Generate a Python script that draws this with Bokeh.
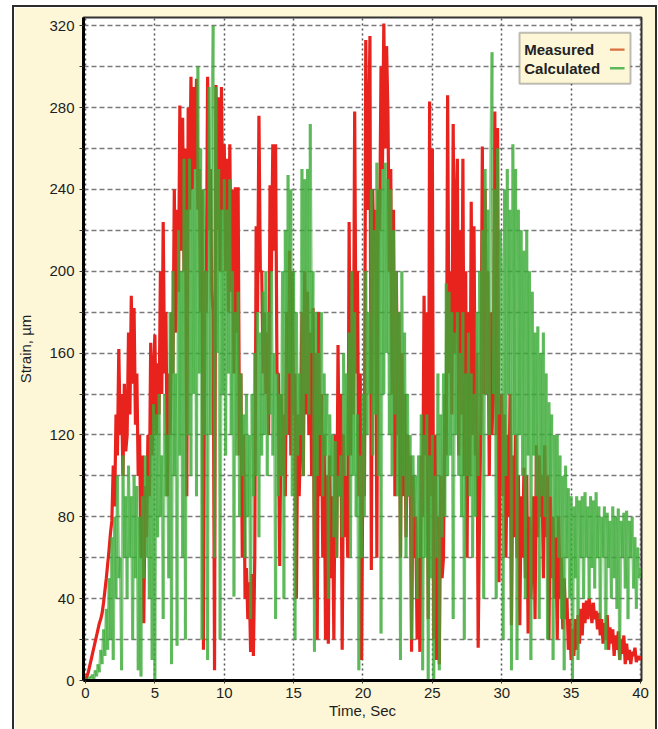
import numpy as np
from bokeh.plotting import figure
from bokeh.models import Range1d, FixedTicker, BoxAnnotation, Label
from bokeh.embed import file_html
from bokeh.resources import INLINE

# ---------------- data ----------------
time_step = 0.1  # seconds between samples

measured = [
    0, 2, 4, 7, 10, 13, 16, 19, 22, 25,
    28, 30, 33, 38, 44, 50, 57, 64, 72, 78,
    105, 85, 130, 110, 162, 120, 140, 100, 145, 112,
    120, 170, 130, 188, 145, 182, 125, 150, 100, 120,
    60, 110, 28, 95, 70, 120, 90, 165, 110, 150,
    169, 120, 155, 130, 200, 140, 224, 150, 180, 90,
    150, 120, 180, 150, 240, 170, 230, 190, 281, 210,
    275, 200, 260, 90, 280, 230, 295, 240, 290, 250,
    294, 230, 250, 180, 240, 15, 200, 180, 295, 220,
    250, 190, 180, 5, 291, 220, 285, 200, 290, 230,
    262, 200, 255, 180, 262, 190, 240, 150, 241, 170,
    241, 110, 150, 60, 120, 40, 55, 30, 48, 14,
    52, 12, 60, 222, 180, 276, 200, 200, 150, 180,
    140, 170, 120, 242, 200, 262, 210, 262, 150, 150,
    56, 140, 100, 130, 90, 180, 120, 210, 110, 200,
    130, 150, 40, 130, 90, 120, 180, 100, 200, 130,
    190, 120, 170, 100, 182, 40, 160, 20, 180, 90,
    140, 60, 120, 20, 100, 18, 110, 50, 90, 20,
    120, 60, 164, 90, 140, 15, 120, 70, 100, 60,
    224, 110, 200, 130, 278, 150, 200, 90, 150, 10,
    120, 90, 313, 230, 260, 315, 54, 240, 200, 230,
    60, 240, 220, 300, 250, 321, 260, 310, 276, 200,
    250, 140, 230, 90, 200, 120, 180, 60, 160, 90,
    140, 70, 120, 90, 110, 14, 100, 60, 80, 20,
    60, 14, 110, 80, 188, 110, 180, 30, 283, 90,
    260, 20, 120, 10, 80, 8, 100, 50, 60, 140,
    110, 286, 150, 200, 130, 272, 160, 230, 255, 110,
    220, 130, 255, 100, 200, 60, 180, 100, 234, 120,
    222, 110, 160, 16, 80, 130, 261, 140, 240, 140,
    200, 100, 180, 120, 150, 278, 120, 270, 48, 130,
    140, 90, 130, 60, 120, 80, 140, 27, 110, 70,
    120, 60, 100, 27, 90, 60, 104, 50, 100, 23,
    80, 40, 60, 90, 30, 115, 70, 110, 80, 100,
    50, 115, 70, 100, 20, 90, 50, 80, 40, 70,
    20, 80, 40, 60, 25, 50, 30, 40, 15, 30,
    10, 25, 12, 30, 15, 32, 18, 35, 22, 38,
    28, 39, 30, 40, 35, 28, 38, 30, 34, 25,
    33, 22, 30, 18, 28, 20, 32, 15, 26, 18,
    25, 12, 22, 15, 24, 10, 20, 13, 22, 8,
    18, 10, 15, 8, 14, 12, 16, 9, 12, 10,
    12,
]

calculated = [
    0, 1, 0, 2, 1, 3, 0, 5, 2, 8,
    4, 15, 8, 25, 12, 35, 15, 50, 20, 70,
    10, 80, 40, 100, 50, 60, 5, 110, 60, 90,
    40, 105, 60, 90, 20, 100, 50, 95, 5, 80,
    2, 90, 50, 110, 60, 100, 40, 120, 10, 135,
    0, 130, 70, 140, 80, 110, 30, 140, 90, 120,
    50, 180, 8, 200, 100, 150, 17, 220, 110, 200,
    60, 255, 20, 230, 120, 255, 100, 240, 140, 250,
    90, 300, 150, 260, 20, 240, 120, 200, 10, 290,
    120, 270, 320, 60, 290, 160, 250, 20, 230, 140,
    245, 110, 230, 150, 245, 120, 200, 41, 180, 110,
    190, 80, 150, 100, 130, 60, 140, 80, 120, 30,
    140, 90, 160, 100, 180, 70, 170, 110, 190, 120,
    200, 100, 180, 130, 200, 110, 160, 30, 150, 90,
    140, 100, 200, 40, 220, 120, 247, 150, 240, 90,
    200, 20, 180, 110, 150, 120, 250, 100, 245, 140,
    250, 130, 272, 160, 200, 14, 180, 100, 160, 120,
    180, 90, 150, 110, 140, 40, 130, 100, 120, 70,
    117, 60, 100, 90, 110, 70, 160, 100, 150, 110,
    170, 60, 200, 100, 180, 80, 130, 5, 110, 60,
    140, 80, 200, 120, 180, 140, 240, 110, 220, 130,
    253, 100, 240, 23, 250, 140, 253, 160, 245, 120,
    240, 100, 220, 130, 200, 90, 180, 10, 200, 100,
    170, 60, 140, 90, 120, 20, 110, 80, 100, 40,
    110, 60, 130, 5, 120, 60, 130, 0, 110, 50,
    120, 0, 100, 60, 150, 5, 130, 70, 150, 80,
    194, 100, 190, 110, 180, 30, 170, 120, 180, 100,
    160, 80, 180, 20, 150, 100, 170, 90, 150, 60,
    140, 80, 180, 100, 200, 120, 220, 40, 250, 140,
    230, 120, 250, 307, 140, 240, 40, 260, 130, 220,
    200, 20, 240, 100, 250, 140, 230, 5, 262, 120,
    250, 10, 230, 120, 220, 100, 210, 40, 220, 110,
    200, 10, 190, 110, 170, 90, 173, 30, 160, 90,
    170, 80, 150, 20, 136, 90, 130, 10, 120, 70,
    120, 60, 110, 30, 100, 5, 105, 60, 94, 40,
    90, 0, 85, 50, 90, 10, 88, 60, 90, 40,
    92, 60, 85, 40, 90, 55, 88, 45, 92, 60,
    85, 30, 80, 60, 85, 15, 82, 55, 78, 40,
    85, 50, 80, 35, 84, 10, 78, 60, 82, 45,
    83, 30, 78, 60, 80, 45, 70, 35, 65, 50,
    55,
]

x_ticks = [0, 5, 10, 15, 20, 25, 30, 35, 40]
y_ticks = [0, 40, 80, 120, 160, 200, 240, 280, 320]
y_minor_ticks = [20, 60, 100, 140, 180, 220, 260, 300]
series_names = ["Measured", "Calculated"]
x_title = "Time, Sec"
y_title = "Strain, µm"

# ---------------- styling ----------------
FONT = "Liberation Sans"
RED = "#e8221c"
GREEN = "#3aaa35"
CREAM = "#fdf7d8"

t_meas = np.arange(len(measured)) * time_step
t_calc = np.arange(len(calculated)) * time_step
calc = np.array(calculated, dtype=float)

p = figure(
    width=645, height=724,
    output_backend="svg", toolbar_location=None,
    x_range=Range1d(-0.144, 40.072), y_range=Range1d(0, 324),
    min_border_left=64, min_border_right=18, min_border_top=10, min_border_bottom=51,
)
p.styles = {"border": "2px solid #2d2d2d", "border-bottom": "none",
            "margin-left": "12px", "margin-top": "5px"}
p.border_fill_color = CREAM
p.background_fill_color = "white"
p.outline_line_color = "#333333"
p.outline_line_width = 2

# data
p.line(t_meas, measured, line_color=RED, line_width=3.2)
p.segment(t_calc[:-1], calc[:-1], t_calc[1:], calc[1:],
          line_color=GREEN, line_alpha=0.58, line_width=3.0)

# axes
p.xaxis.ticker = FixedTicker(ticks=x_ticks)
p.yaxis.ticker = FixedTicker(ticks=y_ticks, minor_ticks=y_minor_ticks)
p.xgrid.ticker = FixedTicker(ticks=x_ticks)
p.ygrid.ticker = FixedTicker(ticks=y_ticks, minor_ticks=y_minor_ticks)

p.xaxis.axis_label = x_title
p.yaxis.axis_label = y_title
for ax in (p.xaxis, p.yaxis):
    ax.axis_line_color = "black"
    ax.axis_line_width = 3
    ax.major_tick_line_color = "#333333"
    ax.minor_tick_line_color = "#333333"
    ax.major_tick_in = 0
    ax.minor_tick_in = 0
    ax.major_label_text_font = FONT
    ax.major_label_text_font_size = "15px"
    ax.major_label_text_color = "#1e1e1e"
    ax.axis_label_text_font = FONT
    ax.axis_label_text_font_size = "15px"
    ax.axis_label_text_font_style = "normal"
    ax.axis_label_text_color = "#1e1e1e"
p.yaxis.major_tick_out = 4
p.yaxis.minor_tick_out = 4
p.xaxis.major_tick_out = 3
p.xaxis.minor_tick_out = 0
p.yaxis.major_label_standoff = 5
p.xaxis.major_label_standoff = 4
p.yaxis.axis_label_standoff = 12
p.xaxis.axis_label_standoff = 1

p.xgrid.grid_line_color = "#555555"
p.xgrid.grid_line_width = 1.5
p.xgrid.grid_line_dash = "2 3"
p.ygrid.grid_line_color = "#7a7a7a"
p.ygrid.grid_line_width = 1.5
p.ygrid.grid_line_dash = "5 3"
p.ygrid.minor_grid_line_color = "#7a7a7a"
p.ygrid.minor_grid_line_width = 1.5
p.ygrid.minor_grid_line_dash = "5 3"

# legend (text left, line sample right, as in the original)
p.add_layout(BoxAnnotation(left=31.28, right=39.28, bottom=291.6, top=316.6,
                           fill_color=CREAM, fill_alpha=1.0,
                           line_color="#2b2b2b", line_width=2))
legend_y = [308.3, 299.2]
sample_colors = ["#d9703f", "#5cb85a"]
for name, yy, col in zip(series_names, legend_y, sample_colors):
    p.add_layout(Label(x=31.62, y=yy, text=name, text_baseline="middle",
                       text_align="left", text_font=FONT, text_font_size="15px",
                       text_font_style="bold", text_color="#222222"))
    p.add_layout(BoxAnnotation(left=37.8, right=38.85, bottom=yy - 0.6, top=yy + 0.6,
                               fill_color=col, fill_alpha=1.0, line_alpha=0))

open("out.html", "w").write(file_html(p, INLINE))
